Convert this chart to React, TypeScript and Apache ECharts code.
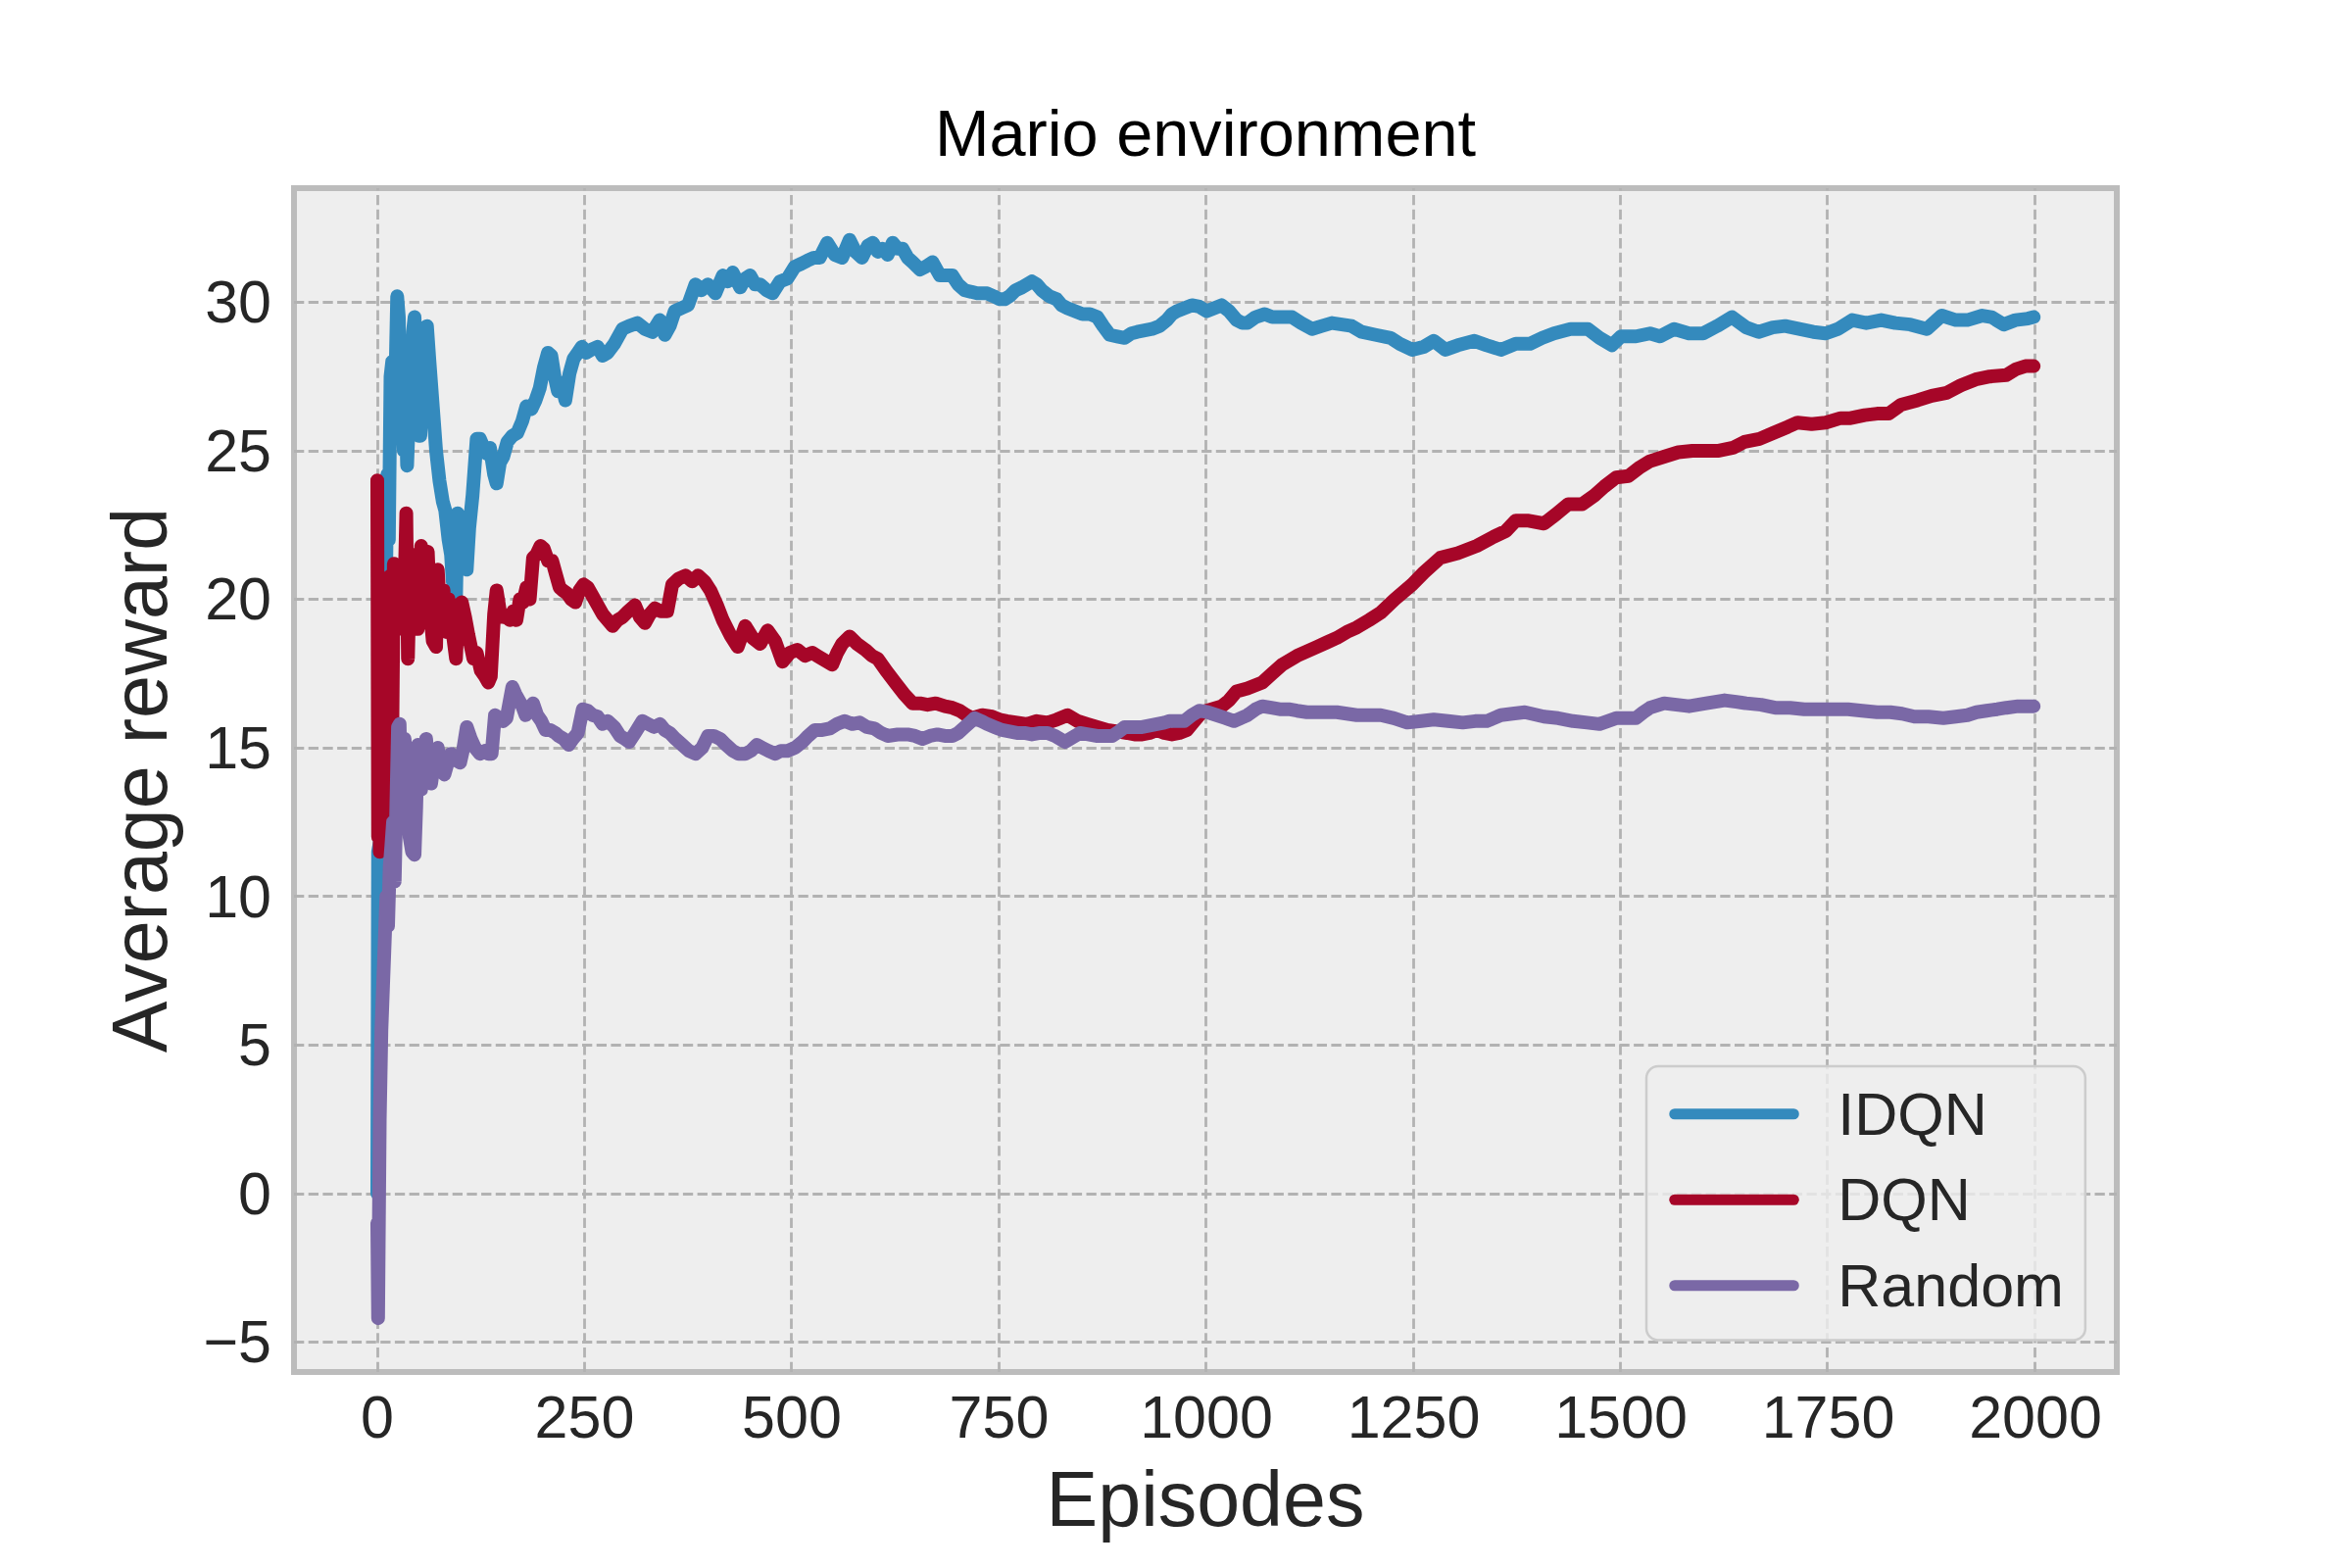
import React, { useEffect, useRef } from "react";
import * as echarts from "echarts";

const titleText = "Mario environment";
const xAxisName = "Episodes";
const yAxisName = "Average reward";
const seriesNames = ["IDQN", "DQN", "Random"];
const seriesColors = ["#348ABD", "#A60628", "#7A68A6"];
const xTicks = [0, 250, 500, 750, 1000, 1250, 1500, 1750, 2000];
const yTicks = [-5, 0, 5, 10, 15, 20, 25, 30];

// [episode, average reward]
const idqnCurve = [
  [0, 0.0], [1, 11.5], [3, 11.8], [5, 18.0], [8, 24.0], [10, 19.0], [12, 24.2], [14, 22.0],
  [16, 27.5], [18, 28.0], [20, 26.5], [22, 27.5], [24, 30.2], [26, 29.5], [28, 25.5], [30, 26.5],
  [32, 25.0], [34, 26.7], [36, 24.5], [38, 26.0], [41, 27.5], [43, 29.0], [45, 29.5], [47, 27.5],
  [50, 25.5], [52, 25.5], [55, 27.5], [58, 28.5], [60, 29.2], [63, 28.0], [67, 26.5], [71, 25.0],
  [75, 24.0], [79, 23.3], [82, 23.0], [86, 22.0], [89, 21.5], [91, 20.6], [93, 21.8], [95, 20.0],
  [97, 22.9], [99, 21.0], [102, 21.8], [105, 21.2], [108, 21.0], [111, 22.4], [115, 23.5], [120, 25.4],
  [124, 25.4], [127, 25.2], [132, 24.9], [136, 25.1], [141, 24.2], [144, 23.9], [148, 24.6], [152, 24.8],
  [157, 25.3], [163, 25.5], [169, 25.6], [175, 26.0], [180, 26.5], [186, 26.4], [191, 26.7], [196, 27.1],
  [201, 27.8], [206, 28.3], [210, 28.2], [214, 27.5], [218, 27.0], [222, 27.3], [227, 26.7], [232, 27.6],
  [237, 28.1], [242, 28.3], [247, 28.5], [252, 28.3], [258, 28.4], [266, 28.5], [272, 28.2], [278, 28.3],
  [286, 28.6], [296, 29.1], [304, 29.2], [314, 29.3], [323, 29.1], [332, 29.0], [341, 29.4], [347, 28.9],
  [353, 29.2], [359, 29.7], [367, 29.8], [375, 29.9], [384, 30.6], [391, 30.4], [399, 30.6], [408, 30.3],
  [417, 30.9], [423, 30.7], [429, 31.0], [438, 30.5], [444, 30.8], [450, 30.9], [456, 30.6], [462, 30.6],
  [470, 30.4], [477, 30.3], [486, 30.7], [495, 30.8], [504, 31.2], [512, 31.3], [519, 31.4], [527, 31.5],
  [534, 31.5], [543, 32.0], [552, 31.6], [561, 31.5], [570, 32.1], [577, 31.7], [585, 31.5], [592, 31.9],
  [598, 32.0], [604, 31.7], [610, 31.8], [616, 31.6], [622, 32.0], [628, 31.8], [634, 31.8], [640, 31.5],
  [646, 31.35], [655, 31.1], [662, 31.2], [670, 31.35], [679, 30.9], [686, 30.9], [694, 30.9], [701, 30.6],
  [709, 30.4], [717, 30.35], [724, 30.3], [730, 30.3], [736, 30.3], [744, 30.2], [751, 30.1], [757, 30.1],
  [763, 30.2], [770, 30.4], [778, 30.5], [784, 30.6], [790, 30.7], [796, 30.6], [802, 30.4], [811, 30.2],
  [820, 30.1], [826, 29.9], [833, 29.8], [842, 29.7], [851, 29.6], [860, 29.6], [869, 29.5], [876, 29.2],
  [884, 28.9], [893, 28.85], [902, 28.8], [910, 28.95], [917, 29.0], [926, 29.05], [935, 29.1], [944, 29.2],
  [953, 29.4], [959, 29.6], [965, 29.7], [974, 29.8], [983, 29.9], [992, 29.85], [1001, 29.7], [1010, 29.8],
  [1019, 29.9], [1028, 29.7], [1037, 29.4], [1044, 29.3], [1050, 29.3], [1060, 29.5], [1071, 29.6], [1080, 29.5],
  [1089, 29.5], [1097, 29.5], [1104, 29.5], [1115, 29.3], [1128, 29.1], [1140, 29.2], [1152, 29.3], [1164, 29.25],
  [1176, 29.2], [1188, 29.0], [1205, 28.9], [1223, 28.8], [1234, 28.6], [1249, 28.4], [1263, 28.5], [1275, 28.7],
  [1289, 28.4], [1304, 28.55], [1324, 28.7], [1339, 28.55], [1356, 28.4], [1374, 28.6], [1391, 28.6], [1406, 28.8],
  [1420, 28.95], [1440, 29.1], [1461, 29.1], [1475, 28.8], [1490, 28.55], [1501, 28.85], [1519, 28.85], [1536, 28.95],
  [1548, 28.85], [1565, 29.1], [1583, 28.95], [1600, 28.95], [1617, 29.2], [1635, 29.5], [1652, 29.15], [1667, 29.0],
  [1684, 29.15], [1699, 29.2], [1716, 29.1], [1733, 29.0], [1748, 28.95], [1763, 29.1], [1780, 29.4], [1797, 29.3],
  [1815, 29.4], [1832, 29.3], [1850, 29.25], [1870, 29.1], [1888, 29.55], [1905, 29.4], [1919, 29.4], [1937, 29.55],
  [1948, 29.5], [1963, 29.25], [1977, 29.4], [1992, 29.45], [1999, 29.5],
];

const dqnCurve = [
  [0, 24.0], [1, 12.0], [2, 20.5], [3, 11.5], [5, 18.0], [7, 13.5], [9, 20.7], [11, 12.5],
  [13, 17.5], [16, 20.8], [18, 15.0], [20, 21.2], [22, 21.0], [24, 19.5], [27, 20.5], [30, 19.0],
  [33, 20.5], [35, 22.9], [37, 18.0], [40, 21.5], [43, 20.2], [46, 21.5], [49, 19.0], [51, 19.8],
  [53, 21.8], [57, 20.5], [61, 21.6], [64, 19.5], [67, 18.6], [71, 18.4], [73, 21.0], [76, 19.5],
  [80, 20.3], [83, 18.9], [86, 20.0], [89, 19.3], [95, 18.0], [98, 19.8], [102, 19.9], [106, 19.4],
  [110, 18.8], [116, 18.0], [120, 18.2], [125, 17.6], [130, 17.4], [134, 17.2], [137, 17.4], [141, 19.5],
  [144, 20.3], [148, 19.6], [152, 19.4], [156, 19.4], [160, 19.3], [164, 19.6], [168, 19.3], [172, 20.0],
  [176, 19.9], [180, 20.4], [184, 20.0], [188, 21.4], [192, 21.5], [197, 21.8], [201, 21.7], [206, 21.3],
  [211, 21.3], [216, 20.8], [220, 20.4], [224, 20.3], [229, 20.2], [234, 20.0], [239, 19.9], [244, 20.3],
  [249, 20.5], [254, 20.4], [260, 20.1], [266, 19.8], [272, 19.5], [278, 19.3], [284, 19.1], [290, 19.3],
  [296, 19.4], [303, 19.6], [311, 19.8], [317, 19.4], [323, 19.2], [329, 19.5], [335, 19.7], [342, 19.6],
  [350, 19.6], [356, 20.5], [364, 20.7], [372, 20.8], [380, 20.6], [387, 20.8], [395, 20.6], [402, 20.3],
  [410, 19.8], [417, 19.3], [426, 18.8], [435, 18.4], [444, 19.1], [453, 18.7], [462, 18.5], [471, 18.95],
  [480, 18.6], [489, 17.9], [498, 18.2], [507, 18.3], [516, 18.1], [525, 18.2], [531, 18.1], [537, 18.0],
  [543, 17.9], [549, 17.8], [555, 18.2], [561, 18.5], [570, 18.75], [579, 18.5], [589, 18.3], [597, 18.1],
  [604, 18.0], [614, 17.6], [625, 17.2], [636, 16.8], [646, 16.5], [655, 16.5], [664, 16.45], [674, 16.5],
  [685, 16.4], [694, 16.35], [703, 16.25], [711, 16.1], [718, 16.0], [730, 16.1], [742, 16.05], [751, 15.95],
  [760, 15.9], [772, 15.85], [784, 15.8], [796, 15.9], [809, 15.85], [820, 15.95], [833, 16.1], [845, 15.9],
  [857, 15.8], [869, 15.7], [881, 15.6], [893, 15.55], [905, 15.5], [914, 15.45], [923, 15.45], [932, 15.5],
  [941, 15.6], [950, 15.5], [959, 15.45], [968, 15.5], [977, 15.6], [986, 15.9], [995, 16.2], [1007, 16.3],
  [1019, 16.4], [1028, 16.6], [1037, 16.9], [1050, 17.0], [1068, 17.2], [1080, 17.5], [1092, 17.8], [1101, 17.95],
  [1110, 18.1], [1122, 18.25], [1134, 18.4], [1146, 18.55], [1158, 18.7], [1170, 18.9], [1182, 19.05], [1197, 19.3],
  [1211, 19.55], [1228, 20.0], [1249, 20.5], [1263, 20.9], [1283, 21.4], [1304, 21.55], [1327, 21.8], [1347, 22.1],
  [1362, 22.3], [1374, 22.65], [1388, 22.65], [1408, 22.55], [1422, 22.85], [1437, 23.2], [1454, 23.2], [1469, 23.5],
  [1481, 23.8], [1495, 24.1], [1510, 24.15], [1524, 24.45], [1536, 24.65], [1553, 24.8], [1570, 24.95], [1587, 25.0],
  [1604, 25.0], [1619, 25.0], [1636, 25.1], [1650, 25.3], [1668, 25.4], [1685, 25.6], [1702, 25.8], [1714, 25.95],
  [1731, 25.9], [1748, 25.95], [1766, 26.1], [1778, 26.1], [1795, 26.2], [1810, 26.25], [1824, 26.25], [1839, 26.55],
  [1859, 26.7], [1876, 26.85], [1894, 26.95], [1911, 27.2], [1929, 27.4], [1946, 27.5], [1966, 27.55], [1978, 27.75],
  [1989, 27.85], [1999, 27.85],
];

const randomCurve = [
  [0, -1.0], [1, -4.2], [3, 2.5], [5, 5.5], [7, 7.0], [9, 8.5], [11, 10.0], [13, 9.0],
  [15, 11.0], [17, 11.7], [19, 12.5], [21, 10.5], [23, 13.0], [25, 15.7], [27, 15.8], [29, 12.9],
  [31, 14.5], [33, 15.3], [36, 13.5], [39, 12.0], [42, 11.5], [45, 11.4], [47, 13.0], [49, 15.1],
  [51, 14.0], [53, 13.6], [56, 14.5], [59, 15.3], [62, 14.3], [65, 13.8], [69, 14.6], [73, 15.0],
  [77, 14.4], [81, 14.1], [85, 14.5], [89, 14.8], [94, 14.6], [100, 14.5], [104, 15.0], [108, 15.7],
  [113, 15.3], [118, 15.0], [124, 14.8], [130, 14.9], [134, 14.8], [138, 14.8], [142, 16.1], [147, 16.0],
  [152, 15.9], [156, 16.0], [160, 16.6], [163, 17.05], [167, 16.8], [171, 16.6], [175, 16.4], [179, 16.1],
  [183, 16.3], [188, 16.5], [193, 16.1], [198, 15.9], [203, 15.6], [209, 15.6], [215, 15.5], [219, 15.4],
  [225, 15.3], [231, 15.1], [236, 15.3], [242, 15.5], [248, 16.3], [254, 16.25], [260, 16.1], [266, 16.05],
  [272, 15.8], [278, 15.9], [286, 15.7], [293, 15.4], [299, 15.3], [304, 15.2], [311, 15.5], [320, 15.9],
  [327, 15.8], [334, 15.7], [341, 15.8], [347, 15.6], [353, 15.5], [360, 15.3], [368, 15.1], [376, 14.9],
  [384, 14.8], [392, 15.0], [399, 15.4], [406, 15.4], [414, 15.3], [421, 15.1], [429, 14.9], [436, 14.8],
  [444, 14.8], [451, 14.9], [458, 15.1], [465, 15.0], [472, 14.9], [480, 14.8], [487, 14.9], [495, 14.9],
  [504, 15.0], [513, 15.2], [520, 15.4], [528, 15.6], [537, 15.6], [546, 15.65], [555, 15.8], [564, 15.9],
  [573, 15.8], [582, 15.85], [591, 15.7], [600, 15.65], [608, 15.5], [616, 15.4], [628, 15.45], [640, 15.45],
  [649, 15.4], [658, 15.3], [667, 15.4], [676, 15.45], [685, 15.4], [694, 15.4], [701, 15.5], [709, 15.7],
  [715, 15.85], [721, 16.0], [729, 15.9], [736, 15.8], [745, 15.7], [754, 15.6], [763, 15.55], [772, 15.5],
  [781, 15.5], [790, 15.45], [800, 15.5], [809, 15.5], [818, 15.4], [824, 15.3], [830, 15.2], [839, 15.35],
  [848, 15.5], [858, 15.45], [869, 15.4], [878, 15.4], [887, 15.4], [895, 15.55], [902, 15.7], [912, 15.7],
  [923, 15.7], [932, 15.75], [941, 15.8], [950, 15.85], [956, 15.9], [965, 15.9], [974, 15.9], [983, 16.1],
  [992, 16.25], [1002, 16.2], [1013, 16.1], [1024, 16.0], [1034, 15.9], [1042, 16.0], [1050, 16.1], [1060, 16.3],
  [1068, 16.4], [1079, 16.35], [1089, 16.3], [1100, 16.3], [1110, 16.25], [1122, 16.2], [1134, 16.2], [1146, 16.2],
  [1158, 16.2], [1170, 16.15], [1182, 16.1], [1197, 16.1], [1211, 16.1], [1227, 16.0], [1243, 15.85], [1260, 15.9],
  [1275, 15.95], [1292, 15.9], [1310, 15.85], [1325, 15.9], [1339, 15.9], [1356, 16.1], [1370, 16.15], [1385, 16.2],
  [1408, 16.05], [1425, 16.0], [1443, 15.9], [1460, 15.85], [1475, 15.8], [1485, 15.9], [1495, 16.0], [1508, 16.0],
  [1519, 16.0], [1528, 16.2], [1536, 16.35], [1553, 16.5], [1568, 16.45], [1583, 16.4], [1604, 16.5], [1626, 16.6],
  [1640, 16.55], [1652, 16.5], [1670, 16.45], [1687, 16.35], [1705, 16.35], [1722, 16.3], [1740, 16.3], [1757, 16.3],
  [1775, 16.3], [1792, 16.25], [1810, 16.2], [1826, 16.2], [1840, 16.15], [1855, 16.05], [1872, 16.05], [1890, 16.0],
  [1905, 16.05], [1919, 16.1], [1930, 16.2], [1942, 16.25], [1955, 16.3], [1966, 16.35], [1980, 16.4], [1999, 16.4],
];

const curves = [idqnCurve, dqnCurve, randomCurve];

const FONT = "'Liberation Sans', Arial, Helvetica, sans-serif";
const TEXT_DARK = "#262626";

export default function App() {
  const ref = useRef<HTMLDivElement>(null);

  useEffect(() => {
    if (!ref.current) return;
    const chart = echarts.init(ref.current, null, { renderer: "svg" });
    const seriesLineW = 14;
    const legendLineW = 11;

    const gridLineStyle = { color: "#b2b2b2", width: 2.8, type: [10.3, 4.4] };

    const option: any = {
      animation: false,
      backgroundColor: "#ffffff",
      textStyle: { fontFamily: FONT },
      graphic: [
        {
          type: "text",
          x: 1230,
          y: 136,
          z: 10,
          style: {
            text: titleText,
            fontSize: 66.7,
            fontFamily: FONT,
            fill: "#000000",
            align: "center",
            verticalAlign: "middle",
            textAlign: "center",
            textVerticalAlign: "middle",
          },
        },
      ],
      grid: [
        {
          left: 300,
          top: 192,
          width: 1860,
          height: 1208,
          show: true,
          backgroundColor: "#eeeeee",
          borderColor: "#bcbcbc",
          borderWidth: 6,
          containLabel: false,
          outerBoundsMode: "none",
        },
        {
          left: 385,
          top: 308.3,
          width: 1692,
          height: 1061,
          show: false,
          containLabel: false,
          outerBoundsMode: "none",
        },
      ],
      xAxis: [
        {
          type: "value",
          gridIndex: 0,
          min: -100.5,
          max: 2099.3,
          axisLine: { show: false },
          axisTick: { show: false },
          axisLabel: { show: false },
          splitLine: { show: false },
          name: xAxisName,
          nameLocation: "middle",
          nameGap: 90,
          nameTextStyle: { fontSize: 79, color: TEXT_DARK, fontFamily: FONT },
        },
        {
          type: "value",
          gridIndex: 1,
          min: 0,
          max: 2000,
          interval: 250,
          axisLine: { show: false },
          axisTick: { show: false },
          splitLine: { show: false },
          axisLabel: {
            show: true,
            fontSize: 61,
            color: TEXT_DARK,
            fontFamily: FONT,
            margin: 46,
            showMinLabel: true,
            showMaxLabel: true,
            hideOverlap: false,
            formatter: (v: number) => String(v),
          },
        },
      ],
      yAxis: [
        {
          type: "value",
          gridIndex: 0,
          min: -6.01,
          max: 33.84,
          axisLine: { show: false },
          axisTick: { show: false },
          axisLabel: { show: false },
          splitLine: { show: false },
          name: yAxisName,
          nameLocation: "middle",
          nameGap: 118,
          nameRotate: 90,
          nameTextStyle: { fontSize: 79, color: TEXT_DARK, fontFamily: FONT },
        },
        {
          type: "value",
          gridIndex: 1,
          min: -5,
          max: 30,
          interval: 5,
          axisLine: { show: false },
          axisTick: { show: false },
          splitLine: { show: false },
          axisLabel: {
            show: true,
            fontSize: 61,
            color: TEXT_DARK,
            fontFamily: FONT,
            margin: 108,
            showMinLabel: true,
            showMaxLabel: true,
            formatter: (v: number) => (v < 0 ? "\u2212" + Math.abs(v) : String(v)),
          },
        },
      ],
      legend: {
        data: seriesNames,
        orient: "vertical",
        left: 1680,
        top: 1088,
        padding: [5, 22, 12, 23.3],
        itemWidth: 121.5,
        itemHeight: 11,
        itemGap: 0,
        backgroundColor: "rgba(238,238,238,0.8)",
        borderColor: "#cccccc",
        borderWidth: 2.5,
        borderRadius: 12,
        selectedMode: false,
        lineStyle: { width: legendLineW, cap: "round" },
        itemStyle: { opacity: 0 },
        textStyle: {
          fontSize: 61,
          color: TEXT_DARK,
          fontFamily: FONT,
          lineHeight: 87.5,
          padding: [0, 0, 0, 40],
        },
        z: 6,
      },
      series: [
        {
          type: "line",
          name: "__grid",
          xAxisIndex: 0,
          yAxisIndex: 0,
          data: [],
          z: 1,
          silent: true,
          markLine: {
            silent: true,
            z: 1,
            symbol: ["none", "none"],
            label: { show: false },
            emphasis: { disabled: true },
            animation: false,
            lineStyle: gridLineStyle,
            data: [
              ...xTicks.map((v) => ({ xAxis: v })),
              ...yTicks.map((v) => ({ yAxis: v })),
            ],
          },
        },
        ...seriesNames.map((name, i) => ({
          type: "line",
          name,
          xAxisIndex: 0,
          yAxisIndex: 0,
          data: curves[i],
          color: seriesColors[i],
          showSymbol: false,
          symbol: "none",
          z: 2 + i,
          itemStyle: { color: seriesColors[i] },
          lineStyle: { width: seriesLineW, color: seriesColors[i], cap: "round", join: "round" },
          emphasis: { disabled: true },
          silent: true,
        })),
      ],
    };

    chart.setOption(option);
    return () => chart.dispose();
  }, []);

  return (
    <div
      ref={ref}
      style={{ position: "absolute", left: 0, top: 0, width: 2400, height: 1600 }}
    />
  );
}
